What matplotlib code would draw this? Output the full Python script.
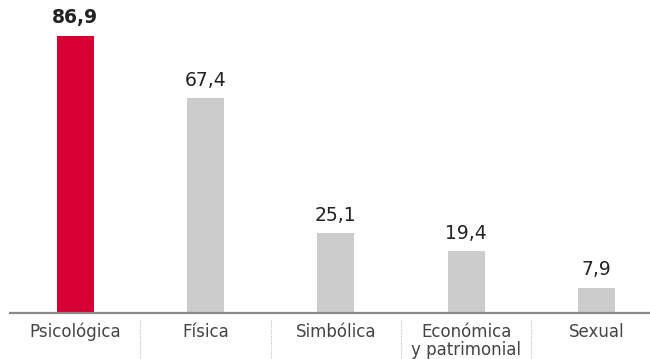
import matplotlib.pyplot as plt

plt.rcParams['font.family'] = ['DejaVu Sans']

categorias = ['Psicológica', 'Física', 'Simbólica', 'Económica\ny patrimonial', 'Sexual']
valores = [86.9, 67.4, 25.1, 19.4, 7.9]
etiquetas = ['86,9', '67,4', '25,1', '19,4', '7,9']

rojo = '#d70032'
gris = '#cccccc'
colores = [rojo] + [gris] * (len(valores) - 1)

fig = plt.figure(figsize=(6.5, 3.59), dpi=100)
ax = fig.add_axes([10 / 650, 46 / 359, 1 - 10 / 650, 313 / 359])

x = list(range(len(valores)))
ax.bar(x, valores, width=0.285, color=colores, zorder=2)

for i, (v, t) in enumerate(zip(valores, etiquetas)):
    ax.annotate(t, (i, v), xytext=(0, 6), textcoords='offset points',
                ha='center', va='bottom', fontsize=13.5, color='#222222',
                fontweight='bold' if i == 0 else 'normal')

ax.set_xlim(-0.5, 4.41)
ax.set_ylim(0, 98.1)

for s in ['top', 'right', 'left']:
    ax.spines[s].set_visible(False)
ax.spines['bottom'].set_color('#8a8a8a')
ax.spines['bottom'].set_linewidth(1.6)
ax.spines['bottom'].set_zorder(3)

ax.set_yticks([])
ax.set_xticks(x)
ax.set_xticklabels(categorias, fontsize=12, color='#444444', linespacing=1.05)
ax.tick_params(axis='x', length=0, pad=7)

# separadores punteados entre categorías
for i in range(len(valores) - 1):
    ax.plot([i + 0.5, i + 0.5], [-0.022, -0.15], transform=ax.get_xaxis_transform(),
            color='#c4c4c4', lw=0.8, ls=(0, (1, 1)), clip_on=False)

fig.savefig('out.png', dpi=100)
